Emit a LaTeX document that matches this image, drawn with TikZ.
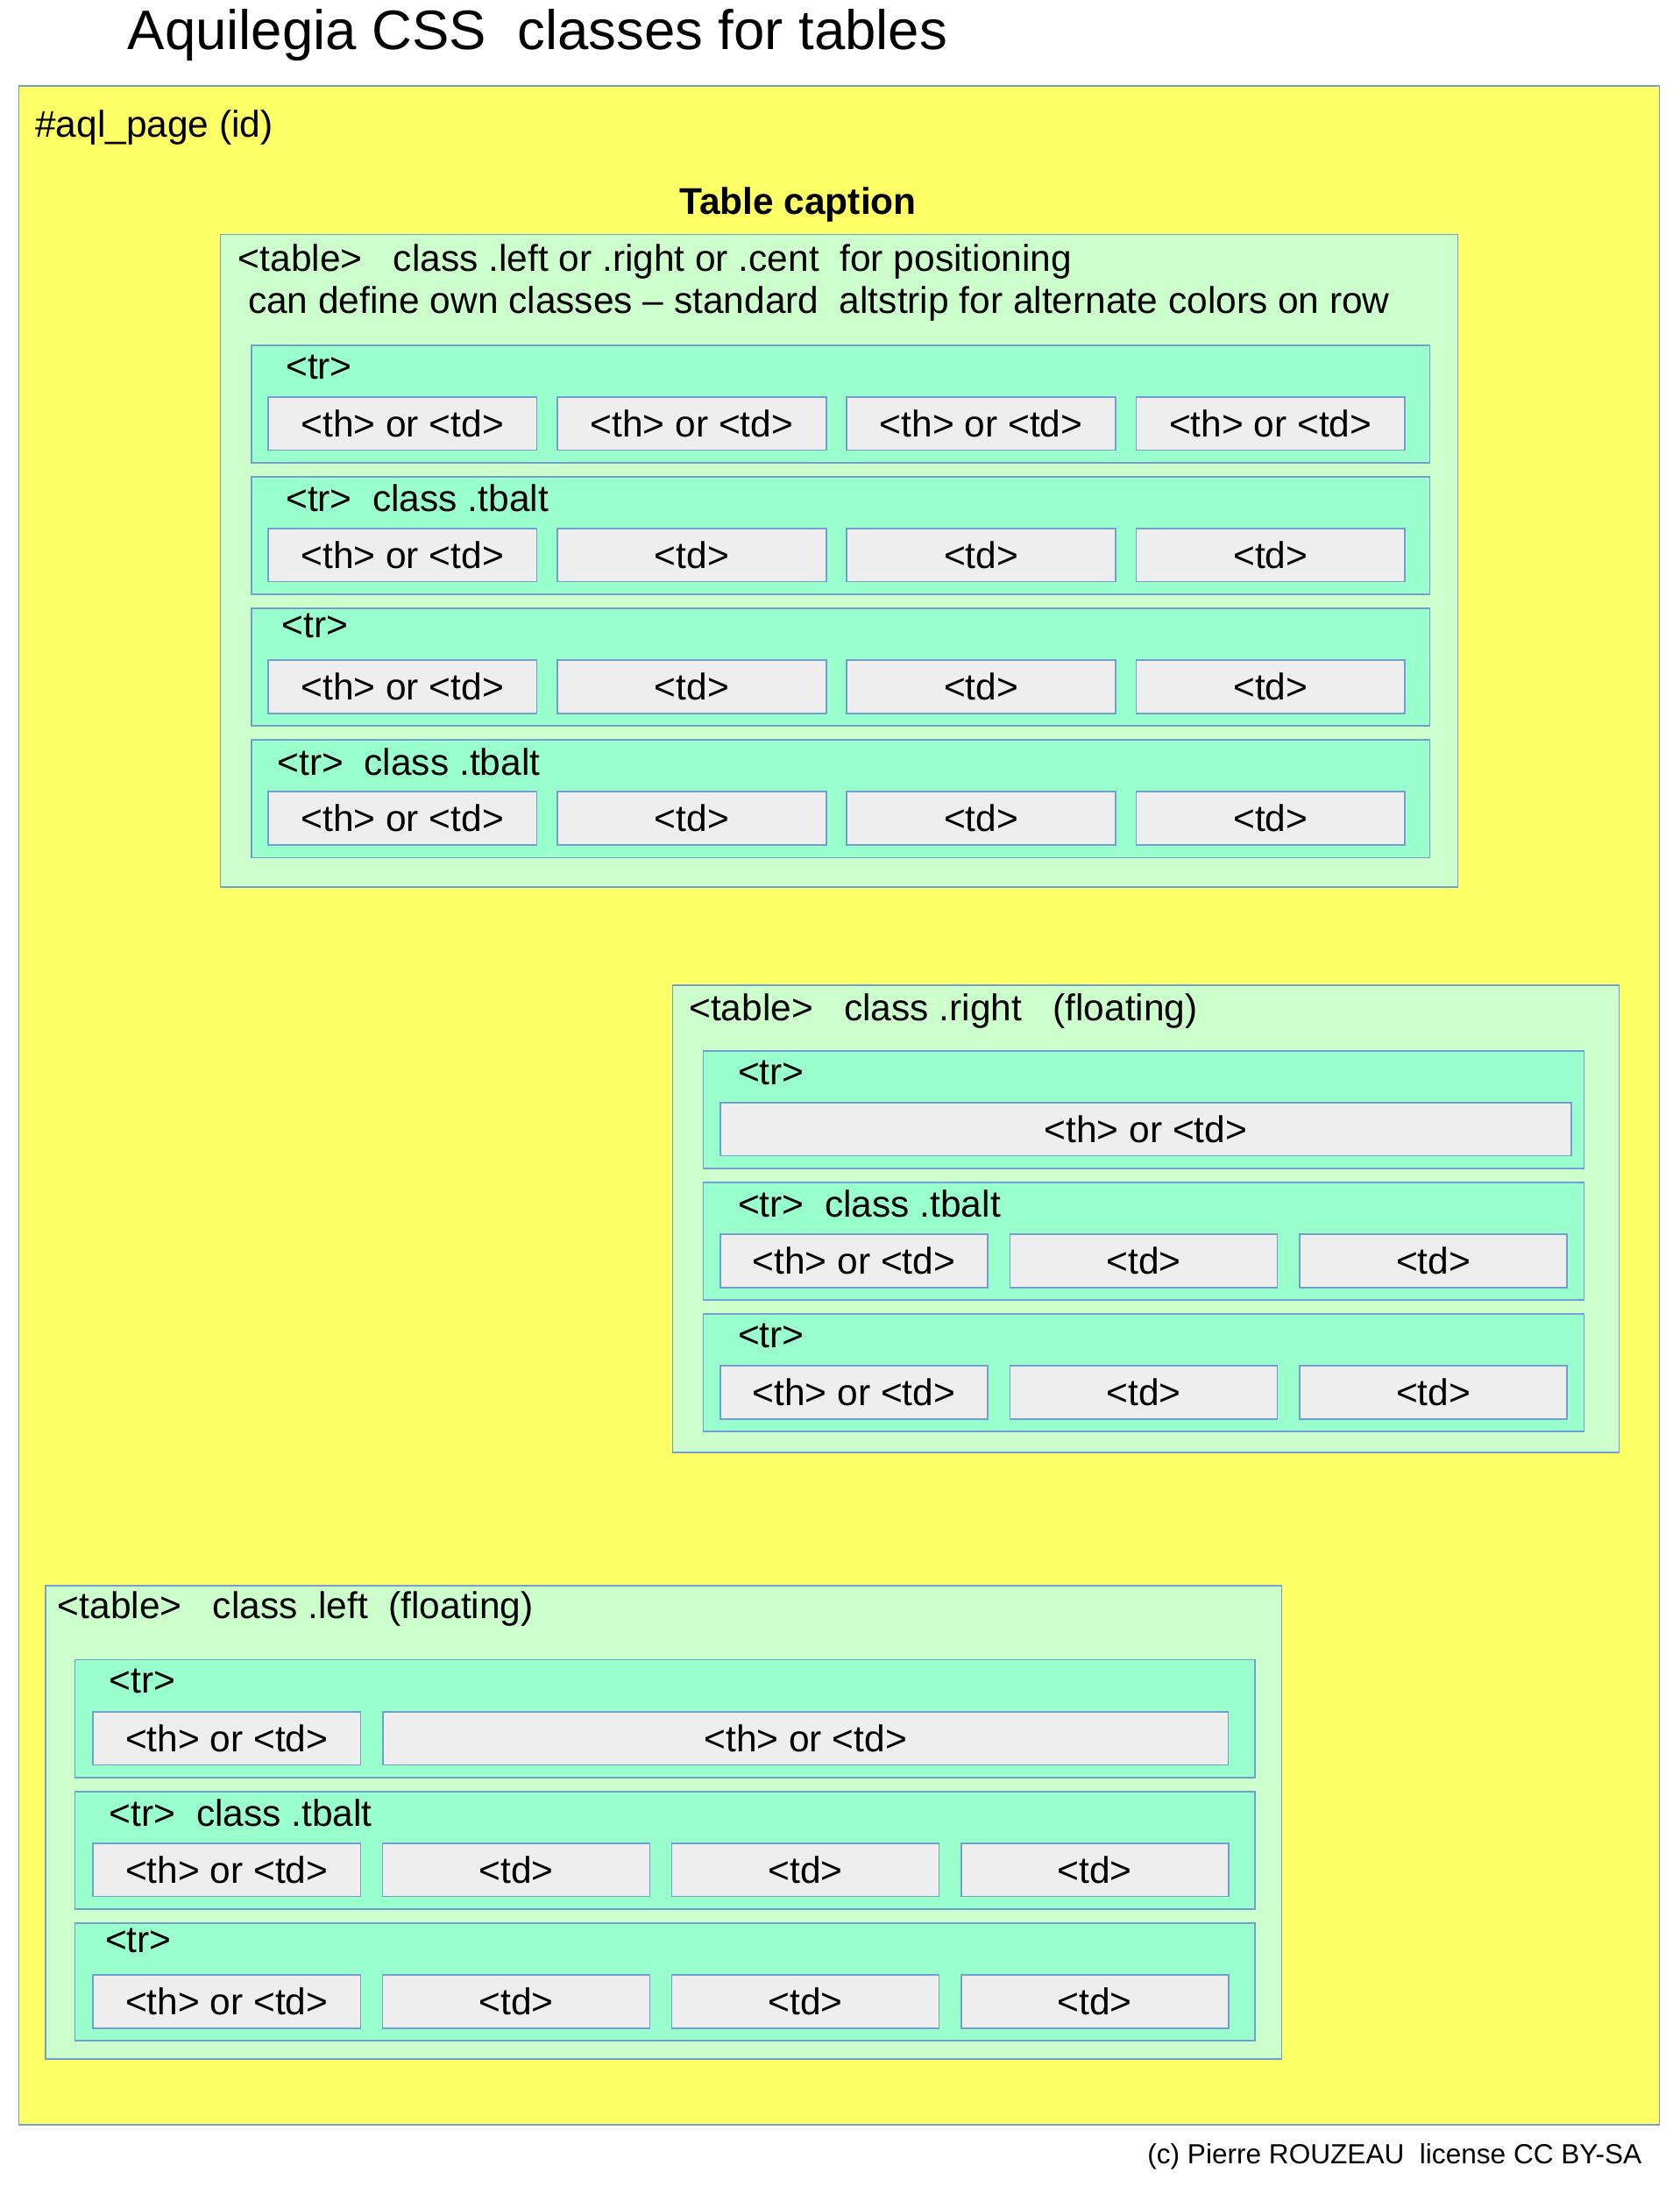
\documentclass[tikz,border=0pt]{standalone}
\usepackage{fontspec}
\setmainfont{Liberation Sans}
\definecolor{aqlyellow}{HTML}{FFFF66}
\definecolor{tabgreen}{HTML}{CCFFCC}
\definecolor{rowgreen}{HTML}{99FFCC}
\definecolor{cellgray}{HTML}{EEEEEE}
\definecolor{boxblue}{HTML}{729FCF}
\usetikzlibrary{positioning}
\def\pxu{0.032cm}
\newcommand\bodyfont{\fontsize{24.2}{29}\selectfont}
\newcommand\thtd{<th> or <td>}

\begin{document}
\begin{tikzpicture}[x=\pxu, y=-\pxu,
        boxbase/.style={draw=boxblue, line width=0.9pt, anchor=north west, inner sep=0pt},
        pagebox/.style={boxbase, fill=aqlyellow, minimum width=1172*\pxu, minimum height=1456*\pxu},
        tablebox/.style 2 args={boxbase, fill=tabgreen, minimum width=#1*\pxu, minimum height=#2*\pxu},
        rowbox/.style={boxbase, fill=rowgreen, minimum width=#1*\pxu, minimum height=84*\pxu},
        cellbox/.style={boxbase, fill=cellgray, minimum width=#1*\pxu, minimum height=38*\pxu, font=\bodyfont},
        cellbox/.default=192,
        lbl/.style={anchor=west, inner sep=0pt, font=\bodyfont}
      ]
        \fill[white] (0,0) rectangle (1200,1567);
        \useasboundingbox (0,0) rectangle (1200,1567);

        \node[lbl, font=\fontsize{36.2}{43}\selectfont] (title) at (91,25) {Aquilegia CSS\ \ classes for tables};
        \node[pagebox] (page) at (13,61) {};
        \node[lbl] (pageid) at (25,91) {\#aql\_page (id)};
        \node[lbl, anchor=center, font=\bodyfont\bfseries] (caption) at (570,146) {Table caption};

        % centred table, four rows
        \node[tablebox={884}{466}] (tc) at (157,167) {};
        \node[lbl] (tctitle) at (170,187) {<table>\ \ \ class .left or .right or .cent\ \ for positioning};
        \node[lbl] (tcnote) at (177,217) {can define own classes -- standard\ \ altstrip for alternate colors on row};
        \node[rowbox=842] (cr0) at (179,246) {};
        \node[lbl] (cl0) at (204,262) {<tr>};
        \foreach \c in {0,...,3}
          \node[cellbox] (cc0-\c) at ({191+206.7*\c},283) {\thtd};
        \foreach \r/\lx/\ly/\lab in {1/204/16/{<tr>\ \ class .tbalt}, 2/201/13/{<tr>}, 3/198/16/{<tr>\ \ class .tbalt}} {
          \node[rowbox=842] (cr\r) at (179,{246+94*\r}) {};
          \node[lbl] (cl\r) at (\lx,{246+94*\r+\ly}) {\lab};
          \node[cellbox] (cc\r-0) at (191,{283+94*\r}) {\thtd};
          \foreach \c in {1,2,3}
            \node[cellbox] (cc\r-\c) at ({191+206.7*\c},{283+94*\r}) {<td>};
        }

        % right floating table
        \node[tablebox={676}{334}] (tr) at (480,703) {};
        \node[lbl] (trtitle) at (492,722) {<table>\ \ \ class .right\ \ \ (floating)};
        \node[rowbox=629] (rr0) at (502,750) {};
        \node[lbl] (rl0) at (527,766) {<tr>};
        \node[cellbox=608] (rc0-0) at (514,787) {\thtd};
        \foreach \r/\lab in {1/{<tr>\ \ class .tbalt}, 2/{<tr>}} {
          \node[rowbox=629] (rr\r) at (502,{750+94*\r}) {};
          \node[lbl] (rl\r) at (527,{766+94*\r}) {\lab};
          \node[cellbox=191] (rc\r-0) at (514,{787+94*\r}) {\thtd};
          \foreach \c in {1,2}
            \node[cellbox=191] (rc\r-\c) at ({514+207*\c},{787+94*\r}) {<td>};
        }

        % left floating table
        \node[tablebox={883}{338}] (tl) at (32,1132) {};
        \node[lbl] (tltitle) at (41,1149) {<table>\ \ \ class .left\ \ (floating)};
        \node[rowbox=843] (lr0) at (53,1185) {};
        \node[lbl] (ll0) at (78,1201) {<tr>};
        \node[cellbox=191] (lc0-0) at (66,1222) {\thtd};
        \node[cellbox=604] (lc0-1) at (273,1222) {\thtd};
        \foreach \r/\lx/\ly/\lab in {1/78/16/{<tr>\ \ class .tbalt}, 2/75/13/{<tr>}} {
          \node[rowbox=843] (lr\r) at (53,{1185+94*\r}) {};
          \node[lbl] (ll\r) at (\lx,{1185+94*\r+\ly}) {\lab};
          \node[cellbox=191] (lc\r-0) at (66,{1222+94*\r}) {\thtd};
          \foreach \c in {1,2,3}
            \node[cellbox=191] (lc\r-\c) at ({66+206.7*\c},{1222+94*\r}) {<td>};
        }

        \node[lbl, anchor=east, font=\fontsize{18}{22}\selectfont] (copy) at (1173,1540) {(c) Pierre ROUZEAU\ \ license CC BY-SA};
      \end{tikzpicture}
\end{document}
